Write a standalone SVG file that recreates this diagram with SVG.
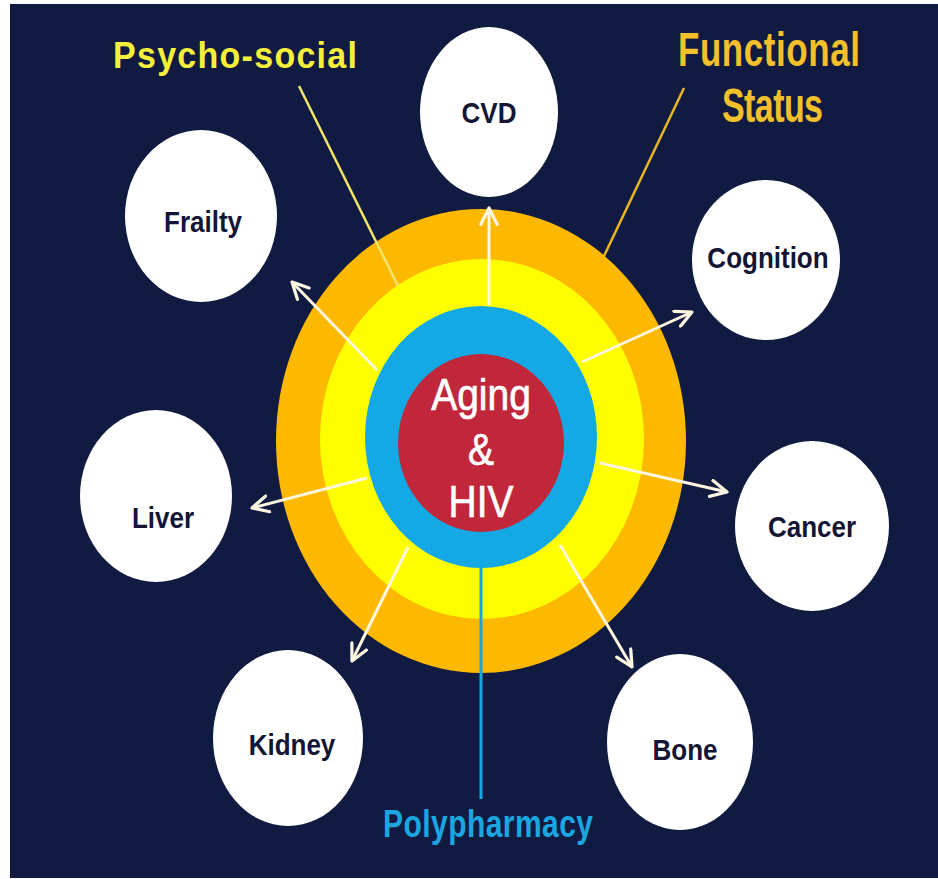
<svg xmlns="http://www.w3.org/2000/svg" width="938" height="879" viewBox="0 0 938 879">
  <defs>
    <style>
      .node { fill: #ffffff; }
      .lbl { font-family: "Liberation Sans", Arial, sans-serif; font-weight: bold; font-size: 26px; fill: #121634; text-anchor: middle; }
      .ray { stroke: #fdf6e0; stroke-width: 3; fill: none; marker-end: url(#head); }
      .title { font-family: "Liberation Sans", Arial, sans-serif; font-weight: bold; }
    </style>
    <marker id="head" viewBox="0 0 12 12" refX="11" refY="6" markerWidth="6.5" markerHeight="6.5" markerUnits="strokeWidth" orient="auto">
      <path d="M1,1 L11,6 L1,11" fill="none" stroke="#fdf6e0" stroke-width="2" stroke-linecap="round" stroke-linejoin="round"/>
    </marker>
  </defs>

  <rect x="0" y="0" width="938" height="879" fill="#ffffff"/>
  <rect x="10" y="4" width="928" height="874" fill="#111a40"/>

  <!-- concentric core -->
  <g id="core">
    <ellipse cx="481" cy="441" rx="205" ry="232" fill="#fdb901"/>
    <ellipse cx="482" cy="439" rx="162" ry="180" fill="#ffff00"/>
    <ellipse cx="481" cy="437" rx="116" ry="131" fill="#14a8e4"/>
    <ellipse cx="481" cy="443" rx="83" ry="89" fill="#c1273a"/>
    <g font-family="Liberation Sans, Arial, sans-serif" font-size="39" fill="#ffffff" text-anchor="middle" stroke="#ffffff" stroke-width="0.6">
      <text transform="translate(481,410) scale(1,1.12)">Aging</text>
      <text transform="translate(481,465) scale(1,1.12)">&amp;</text>
      <text transform="translate(481,517) scale(1,1.12)">HIV</text>
    </g>
  </g>

  <!-- pointer lines for the layer labels -->
  <g id="pointers" stroke-width="2.5">
    <line x1="299" y1="86" x2="398" y2="286" stroke="#f3e46a"/>
    <line x1="684" y1="88" x2="604" y2="256" stroke="#e9b722"/>
    <line x1="481" y1="568" x2="481" y2="799" stroke="#14a8e4" stroke-width="3"/>
  </g>

  <!-- connectors -->
  <g id="connectors">
    <line class="ray" x1="489" y1="305" x2="489" y2="208"/>
    <line class="ray" x1="377" y1="370" x2="292" y2="282"/>
    <line class="ray" x1="582" y1="362" x2="692" y2="312"/>
    <line class="ray" x1="367" y1="478" x2="252" y2="508"/>
    <line class="ray" x1="600" y1="463" x2="727" y2="492"/>
    <line class="ray" x1="408" y1="547" x2="352" y2="661"/>
    <line class="ray" x1="560" y1="545" x2="632" y2="667"/>
  </g>

  <!-- outcome nodes -->
  <g id="cvd">
    <ellipse class="node" cx="489" cy="112" rx="69" ry="85"/>
    <text class="lbl" transform="translate(489,123) scale(1,1.1)">CVD</text>
  </g>
  <g id="frailty">
    <ellipse class="node" cx="201" cy="216" rx="76" ry="86"/>
    <text class="lbl" transform="translate(203,232) scale(1,1.1)">Frailty</text>
  </g>
  <g id="cognition">
    <ellipse class="node" cx="766" cy="260" rx="74" ry="80"/>
    <text class="lbl" transform="translate(768,268) scale(1,1.1)">Cognition</text>
  </g>
  <g id="liver">
    <ellipse class="node" cx="156" cy="496" rx="76" ry="86"/>
    <text class="lbl" transform="translate(163,528) scale(1,1.1)">Liver</text>
  </g>
  <g id="cancer">
    <ellipse class="node" cx="812" cy="526" rx="77" ry="85"/>
    <text class="lbl" transform="translate(812,537) scale(1,1.1)">Cancer</text>
  </g>
  <g id="kidney">
    <ellipse class="node" cx="288" cy="738" rx="75" ry="88"/>
    <text class="lbl" transform="translate(292,755) scale(1,1.1)">Kidney</text>
  </g>
  <g id="bone">
    <ellipse class="node" cx="680" cy="742" rx="73" ry="88"/>
    <text class="lbl" transform="translate(685,760) scale(1,1.1)">Bone</text>
  </g>

  <!-- layer labels -->
  <g id="labels">
    <text class="title" fill="#f4f03c" font-size="34" transform="translate(113,68) scale(1,1.1)" textLength="244">Psycho-social</text>
    <text class="title" fill="#f1c02a" font-size="35" transform="translate(678,66) scale(1,1.35)" textLength="182">Functional</text>
    <text class="title" fill="#f1c02a" font-size="34" transform="translate(722,122) scale(1,1.4)" textLength="101">Status</text>
    <text class="title" fill="#1ba6e0" font-size="30" transform="translate(383,837) scale(1,1.3)" textLength="210">Polypharmacy</text>
  </g>
</svg>
